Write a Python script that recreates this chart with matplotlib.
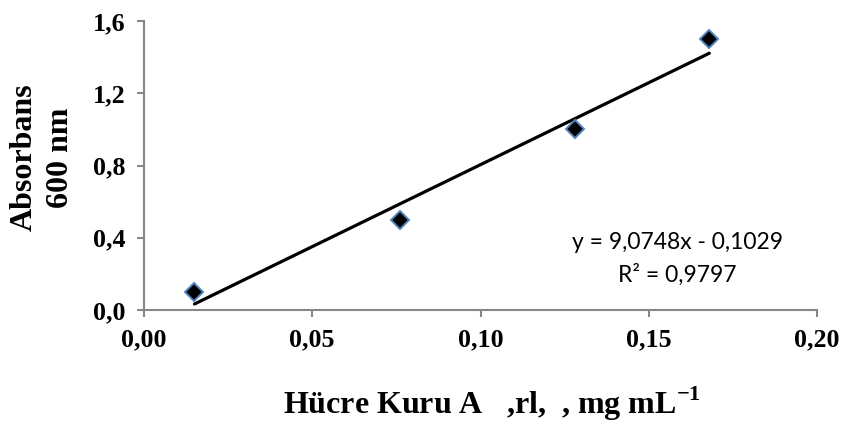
import matplotlib
matplotlib.use("Agg")
import matplotlib.pyplot as plt

# Measured dry cell weight vs. absorbance at 600 nm
dry_weight = [0.015, 0.076, 0.128, 0.168]
absorbance = [0.10, 0.50, 1.00, 1.50]

# Linear calibration fit reported on the chart
slope = 9.0748
intercept = -0.1029
r_squared = 0.9797

x_ticks = [0.00, 0.05, 0.10, 0.15, 0.20]
x_tick_labels = ["0,00", "0,05", "0,10", "0,15", "0,20"]
y_ticks = [0.0, 0.4, 0.8, 1.2, 1.6]
y_tick_labels = ["0,0", "0,4", "0,8", "1,2", "1,6"]

serif = ["Liberation Serif", "DejaVu Serif"]
sans = ["Lato", "DejaVu Sans"]

plt.rcParams["mathtext.fontset"] = "custom"
plt.rcParams["mathtext.rm"] = "Liberation Serif"
plt.rcParams["mathtext.bf"] = "Liberation Serif:bold"

W, H = 845, 424
fig = plt.figure(figsize=(W / 100, H / 100), dpi=100)
ax = fig.add_axes([144 / W, 1 - 310 / H, (817 - 144) / W, (310 - 21) / H])

# Trend line spans the measured range
x_line = [min(dry_weight), max(dry_weight)]
y_line = [slope * v + intercept for v in x_line]
ax.plot(x_line, y_line, color="black", lw=2.3, solid_capstyle="round", zorder=2)

ax.plot(dry_weight, absorbance, linestyle="none", marker="D", markersize=9.5,
        markerfacecolor="black", markeredgecolor="#4f81bd", markeredgewidth=1.4,
        zorder=3)

ax.set_xlim(0.0, 0.20)
ax.set_ylim(0.0, 1.6)
ax.set_xticks(x_ticks)
ax.set_xticklabels(x_tick_labels)
ax.set_yticks(y_ticks)
ax.set_yticklabels(y_tick_labels)

for lab in ax.get_xticklabels() + ax.get_yticklabels():
    lab.set_fontfamily(serif)
    lab.set_fontweight("bold")
    lab.set_fontsize(18.7)

for side in ("top", "right"):
    ax.spines[side].set_visible(False)
for side in ("left", "bottom"):
    ax.spines[side].set_color("#878787")
    ax.spines[side].set_linewidth(1.5)
ax.tick_params(axis="both", direction="out", length=5, width=1.5,
               color="#878787", pad=8)

eq = f"y = {slope:.4f}x - {abs(intercept):.4f}".replace(".", ",")
r2 = f"R² = {r_squared:.4f}".replace(".", ",")
fig.text(678 / W, 1 - 243 / H, eq, ha="center", va="center",
         fontsize=16.5, family=sans)
fig.text(677 / W, 1 - 275 / H, r2, ha="center", va="center",
         fontsize=16.5, family=sans)

fig.text(283 / W, 1 - 414 / H, "Hücre Kuru A   ,rl,  , mg mL$^{\\mathbf{-1}}$",
         ha="left", va="baseline", fontsize=23, fontweight="bold", family=serif)
fig.text(24 / W, 1 - 157 / H, "Absorbans", rotation=90, ha="center",
         va="center", fontsize=23, fontweight="bold", family=serif)
fig.text(61 / W, 1 - 158 / H, "600 nm", rotation=90, ha="center",
         va="center", fontsize=23, fontweight="bold", family=serif)

fig.savefig("out.png", dpi=100)
